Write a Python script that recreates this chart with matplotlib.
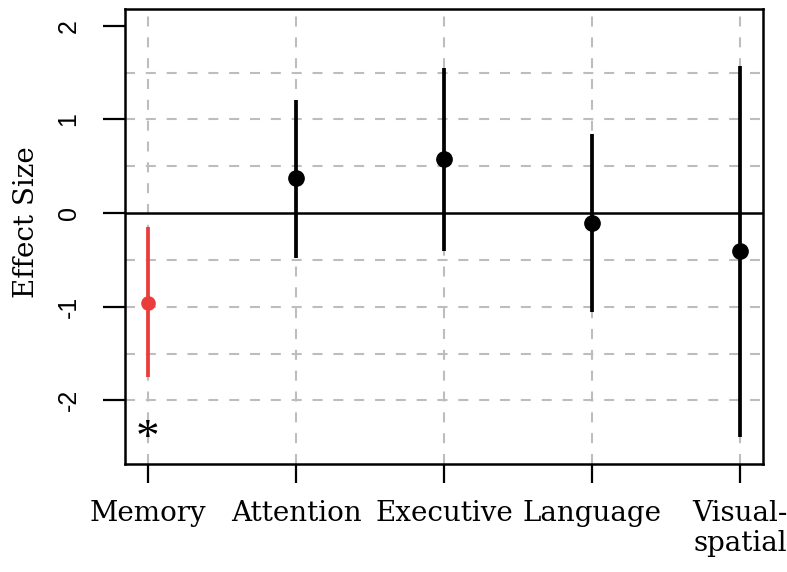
import matplotlib
matplotlib.use("Agg")
import matplotlib.pyplot as plt

# effect sizes with interval ends
domains = ["Memory", "Attention", "Executive", "Language", "Visual-\nspatial"]
effect = [-0.96, 0.37, 0.58, -0.11, -0.41]
lower = [-1.75, -0.48, -0.40, -1.06, -2.39]
upper = [-0.15, 1.21, 1.55, 0.85, 1.57]
colors = ["#ec3b3b", "black", "black", "black", "black"]
sizes = [9.5, 11, 11, 11, 11]
significant = [True, False, False, False, False]
y_ticks = [-2, -1, 0, 1, 2]
grid_levels = [-2, -1.5, -1, -0.5, 0.5, 1, 1.5]


def make_graph():
    fig = plt.figure(figsize=(7.87, 5.72), dpi=100)
    ax = fig.add_axes([0.1588, 0.1888, 0.8107, 0.7955])

    x = list(range(1, len(domains) + 1))
    dash = (0, (4.8, 5.2))

    for xi in x:
        ax.axvline(xi, color="#bdbdbd", lw=1.5, ls=dash, zorder=1)
    for g in grid_levels:
        ax.axhline(g, color="#bdbdbd", lw=1.5, ls=dash, zorder=1)
    ax.axhline(0, color="black", lw=1.8, zorder=2)

    for xi, e, lo, hi, c, s in zip(x, effect, lower, upper, colors, sizes):
        ax.plot([xi, xi], [lo, hi], color=c, lw=2.7, solid_capstyle="butt", zorder=3)
        ax.plot(xi, e, "o", color=c, markersize=s, zorder=4)

    for xi, sig in zip(x, significant):
        if sig:
            ax.text(xi, -2.42, "*", ha="center", va="center", fontsize=34,
                    family="Liberation Serif", zorder=5)

    ax.set_xlim(0.845, 5.155)
    ax.set_ylim(-2.68, 2.18)
    ax.set_xticks(x)
    ax.set_xticklabels(domains, family="DejaVu Serif", fontsize=20,
                       linespacing=1.15)
    ax.set_yticks(y_ticks)
    ax.set_yticklabels([str(t) for t in y_ticks], rotation=90, va="center",
                       family="Liberation Sans", fontsize=18)
    ax.tick_params(axis="x", length=14, width=1.6, pad=12)
    ax.tick_params(axis="y", length=16, width=1.6, pad=16)
    for sp in ax.spines.values():
        sp.set_linewidth(1.8)

    ax.set_ylabel("Effect Size", family="DejaVu Serif", fontsize=20, va="center")
    ax.yaxis.set_label_coords(-0.154, 0.532)
    fig.savefig("out.png", dpi=100)


def main():
    make_graph()


if __name__ == "__main__":
    main()
